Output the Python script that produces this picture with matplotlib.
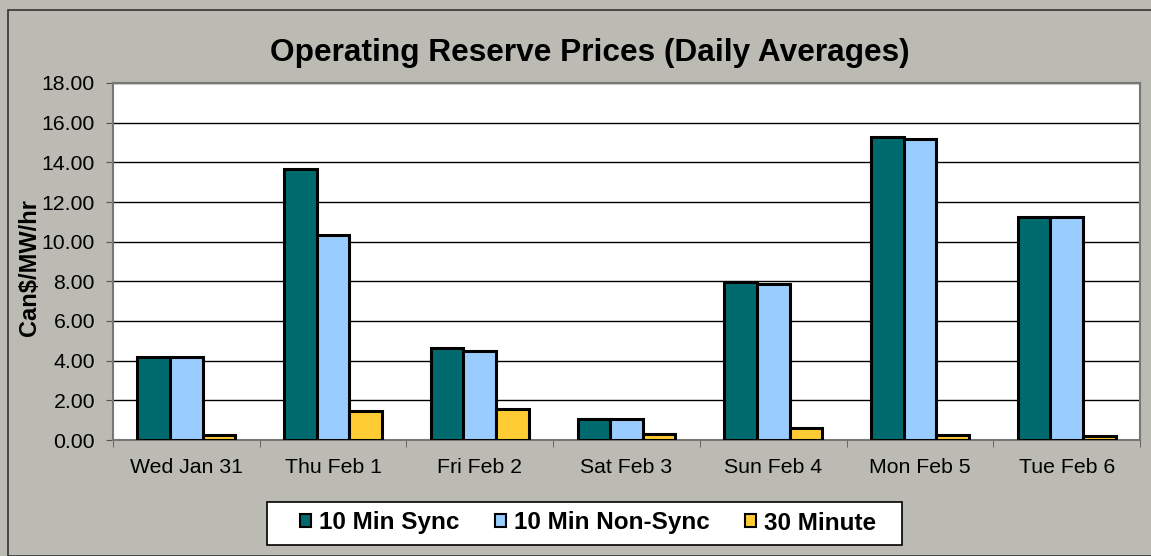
import numpy as np
import matplotlib.pyplot as plt
from matplotlib.patches import Rectangle

plt.rcParams['font.family'] = ['Liberation Sans', 'DejaVu Sans']

# datos
days = ["Wed Jan 31", "Thu Feb 1", "Fri Feb 2", "Sat Feb 3", "Sun Feb 4", "Mon Feb 5", "Tue Feb 6"]
sync_10 = [4.20, 13.68, 4.65, 1.05, 7.95, 15.28, 11.26]
nonsync_10 = [4.20, 10.35, 4.49, 1.05, 7.88, 15.18, 11.26]
min_30 = [0.27, 1.48, 1.56, 0.32, 0.62, 0.25, 0.18]

series = [
    ("10 Min Sync", sync_10, "#006B6E"),
    ("10 Min Non-Sync", nonsync_10, "#99CCFF"),
    ("30 Minute", min_30, "#FFCC33"),
]

W, H = 1151, 556
bg = "#BBBBB3"
fig = plt.figure(figsize=(W/100, H/100), dpi=100, facecolor=bg)
# marco exterior del grafico
fig.patches.append(Rectangle((8/W, 0), 1.0, 1 - 10/H, transform=fig.transFigure,
                             fill=False, edgecolor="#333333", linewidth=1.2))

ax = fig.add_axes([113/W, 116/H, 1027/W, 357/H])
x = np.arange(len(days))
w = 1/4.5
for i, (name, vals, color) in enumerate(series):
    ax.bar(x + (i - 1)*w, vals, width=w, color=color, edgecolor="black",
           linewidth=2.2, label=name, zorder=3)

ax.set_xlim(-0.5, len(days) - 0.5)
ax.set_ylim(0, 18)
yt = np.arange(0, 18.01, 2)
ax.set_yticks(yt)
ax.set_yticklabels([f"{v:.2f}" for v in yt])
ax.set_xticks(x)
ax.set_xticklabels(days)
ax.set_xticks(np.arange(-0.5, len(days), 1), minor=True)
ax.tick_params(axis="x", which="major", length=0, labelsize=15.3, pad=13)
ax.tick_params(axis="x", which="minor", length=5, direction="out", color="#555555")
ax.tick_params(axis="y", length=5, color="#555555", labelsize=15.3, pad=8)
ax.grid(axis="y", color="black", linewidth=1, zorder=0)
for s in ax.spines.values():
    s.set_color("#777777")
    s.set_linewidth(1.5)

fig.text(590/W, 1 - 53/H, "Operating Reserve Prices (Daily Averages)", ha="center", va="center",
         fontsize=22.8, fontweight="bold")
fig.text(30/W, 1 - 267/H, "Can$/MW/hr", rotation=90, ha="center", va="center",
         fontsize=17, fontweight="bold")

# caja de la leyenda
fig.patches.append(Rectangle((267/W, 1 - 545/H), 635/W, 43/H, transform=fig.transFigure,
                             facecolor="white", edgecolor="black", linewidth=1.2))
leg = fig.legend(loc="center", bbox_to_anchor=(588/W, 1 - 523/H), ncol=3,
                 prop={"weight": "bold", "size": 17.5}, frameon=False,
                 handlelength=0.45, handleheight=0.45, handletextpad=0.33,
                 columnspacing=1.45, borderpad=0.2)
for h in leg.legend_handles:
    h.set_linewidth(1.5)

fig.savefig("out.png", dpi=100, facecolor=bg)
